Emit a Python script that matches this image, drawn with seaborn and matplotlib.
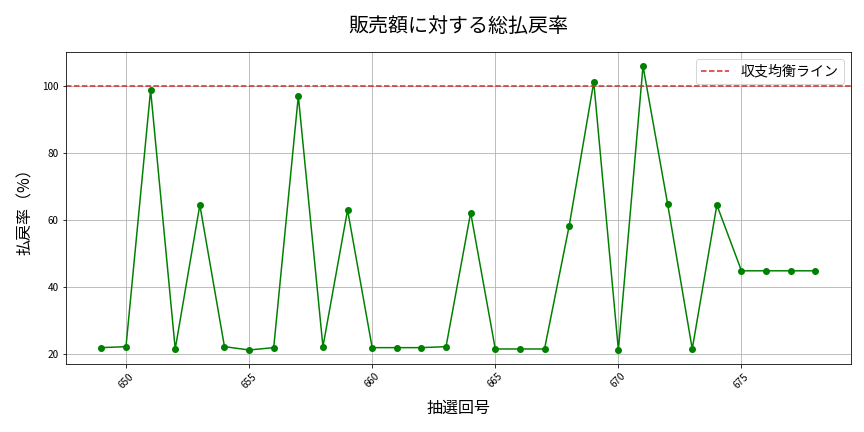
import pandas as pd
import matplotlib.pyplot as plt
import seaborn as sns

# 抽選回号 and 総払戻率 (%)
draws = list(range(649, 679))
payout_rate = [21.8, 22.1, 98.9, 21.4, 64.5, 22.1, 21.1, 21.8, 97.1, 22.1,
               63.0, 21.8, 21.8, 21.8, 22.1, 62.2, 21.4, 21.4, 21.4, 58.2,
               101.3, 21.1, 106.1, 64.8, 21.4, 64.5, 44.8, 44.8, 44.8, 44.8]
breakeven = 100

df = pd.DataFrame({'draw': draws, 'rate': payout_rate})

sns.set_style('ticks', {'text.color': 'black', 'axes.labelcolor': 'black',
                        'xtick.color': 'black', 'ytick.color': 'black',
                        'axes.edgecolor': 'black'})
plt.rcParams['font.family'] = ['Noto Sans CJK JP', 'DejaVu Sans']

fig, ax = plt.subplots(figsize=(12, 6), dpi=72)
sns.lineplot(data=df, x='draw', y='rate', marker='o', color='green',
             markersize=7, markeredgewidth=0, linewidth=1.5, ax=ax)
ax.axhline(breakeven, color='#d62728', linestyle='--', linewidth=1.5,
           label='収支均衡ライン')

ax.set_title('販売額に対する総払戻率', fontsize=20, pad=20)
ax.set_xlabel('抽選回号', fontsize=16, labelpad=10)
ax.set_ylabel('払戻率（%）', fontsize=16, labelpad=8)
ax.tick_params(axis='x', labelrotation=45, labelsize=10)
ax.tick_params(axis='y', labelsize=10)
ax.grid(True, color='#b0b0b0', linewidth=0.8)
ax.legend(loc='upper right', fontsize=14)

fig.subplots_adjust(left=0.076, right=0.985, top=0.88, bottom=0.157)
plt.savefig('out.png', dpi=72)
